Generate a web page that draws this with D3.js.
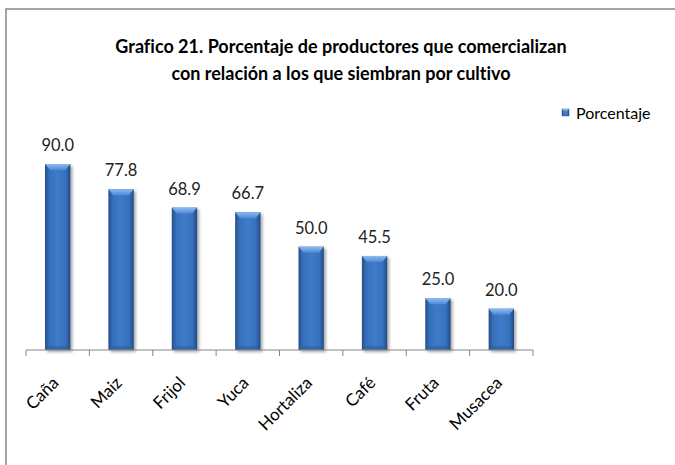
<!doctype html>
<meta charset="utf-8">
<title>Grafico 21</title>
<style>
body { margin: 0; background: #fff; }
svg { font-family: Lato, "Open Sans", sans-serif; font-variant-ligatures: none; font-feature-settings: "liga" 0, "clig" 0; }
</style>
<script src="https://cdn.jsdelivr.net/npm/d3@7"></script>
<body>
<script>
// data
var cultivos = ["Caña", "Maiz", "Frijol", "Yuca", "Hortaliza", "Café", "Fruta", "Musacea"];
var porcentaje = [90.0, 77.8, 68.9, 66.7, 50.0, 45.5, 25.0, 20.0];
var serie = "Porcentaje";
var titulo = ["Grafico 21. Porcentaje de productores que comercializan",
              "con relación a los que siembran por cultivo"];

var W = 675, H = 465;
var svg = d3.select("body").append("svg").attr("width", W).attr("height", H);

var defs = svg.append("defs");
var g1 = defs.append("linearGradient").attr("id", "barBody").attr("x1", 0).attr("x2", 1).attr("y1", 0).attr("y2", 0);
g1.append("stop").attr("offset", "0%").attr("stop-color", "#264f8a");
g1.append("stop").attr("offset", "18%").attr("stop-color", "#3870bb");
g1.append("stop").attr("offset", "50%").attr("stop-color", "#3e7bc9");
g1.append("stop").attr("offset", "82%").attr("stop-color", "#3870bb");
g1.append("stop").attr("offset", "100%").attr("stop-color", "#224a83");
var g2 = defs.append("linearGradient").attr("id", "barTop").attr("x1", 0).attr("x2", 0).attr("y1", 0).attr("y2", 1);
g2.append("stop").attr("offset", "0%").attr("stop-color", "#8ebcf0");
g2.append("stop").attr("offset", "100%").attr("stop-color", "#4c8ad6");
var sh = defs.append("filter").attr("id", "shadow").attr("x", "-20%").attr("y", "-5%").attr("width", "160%").attr("height", "120%");
sh.append("feGaussianBlur").attr("in", "SourceAlpha").attr("stdDeviation", 1.5);
sh.append("feOffset").attr("dx", 1.5).attr("dy", 1.5).attr("result", "off");
sh.append("feComponentTransfer").append("feFuncA").attr("type", "linear").attr("slope", 0.35);
var mg = sh.append("feMerge");
mg.append("feMergeNode");
mg.append("feMergeNode").attr("in", "SourceGraphic");

// outer chart border (runs off the right and bottom)
svg.append("rect").attr("x", 6).attr("y", 9).attr("width", 720).attr("height", 520)
  .attr("fill", "none").attr("stroke", "#868686").attr("stroke-width", 1.5);

svg.append("g").selectAll("text").data(titulo).join("text")
  .attr("x", 341).attr("y", function(d, i) { return 53 + i * 27; })
  .attr("text-anchor", "middle").attr("font-size", 18).attr("font-weight", "bold")
  .attr("fill", "#000").text(function(d) { return d; });

var x = d3.scaleBand().domain(cultivos).range([26, 533]).paddingInner(0.6).paddingOuter(0.3);
var y = d3.scaleLinear().domain([0, 100]).range([350, 143.3]);

// bars
var bars = svg.append("g").selectAll("g").data(porcentaje).join("g")
  .attr("filter", "url(#shadow)");
bars.append("rect")
  .attr("x", function(d, i) { return x(cultivos[i]); })
  .attr("y", function(d) { return y(d); })
  .attr("width", x.bandwidth())
  .attr("height", function(d) { return y(0) - y(d); })
  .attr("fill", "url(#barBody)");
bars.append("path")
  .attr("fill", "url(#barTop)")
  .attr("d", function(d, i) {
    var x0 = x(cultivos[i]), x1 = x0 + x.bandwidth(), t = y(d);
    return "M" + x0 + "," + t + "L" + x1 + "," + t + "L" + (x1 - 5) + "," + (t + 6) + "L" + (x0 + 5) + "," + (t + 6) + "Z";
  });
bars.append("rect")
  .attr("x", function(d, i) { return x(cultivos[i]) + 3; })
  .attr("y", y(0) - 4)
  .attr("width", x.bandwidth() - 6).attr("height", 4)
  .attr("fill", "#2d5f9f").attr("opacity", 0.6);

// value labels
svg.append("g").selectAll("text").data(porcentaje).join("text")
  .attr("x", function(d, i) { return x(cultivos[i]) + x.bandwidth() / 2; })
  .attr("y", function(d) { return y(d) - 13; })
  .attr("text-anchor", "middle").attr("font-size", 16.5).attr("fill", "#222")
  .text(function(d) { return d3.format(".1f")(d); });

// category axis
var ax = svg.append("g").attr("transform", "translate(0,350)");
ax.append("line").attr("x1", 26).attr("x2", 533).attr("stroke", "#868686");
var bounds = cultivos.map(function(c) { return x(c) - x.step() * x.paddingOuter(); });
bounds.push(533);
ax.selectAll("line.tk").data(bounds).join("line").attr("class", "tk")
  .attr("x1", function(d) { return d; }).attr("x2", function(d) { return d; })
  .attr("y1", 0).attr("y2", 6).attr("stroke", "#868686");
ax.selectAll("text").data(cultivos).join("text")
  .attr("transform", function(d) { return "translate(" + (x(d) + x.bandwidth() / 2 + 2) + ",34) rotate(-45)"; })
  .attr("text-anchor", "end").attr("font-size", 17).attr("fill", "#000")
  .text(function(d) { return d; });

// legend
var lg = svg.append("g").attr("transform", "translate(562,109)");
lg.append("rect").attr("width", 7).attr("height", 7).attr("fill", "url(#barBody)").attr("stroke", "#2a5797").attr("stroke-width", 0.5);
lg.append("path").attr("d", "M0,0L7,0L5,2.5L2,2.5Z").attr("fill", "url(#barTop)");
lg.append("text").attr("x", 14).attr("y", 9.5).attr("font-size", 16).attr("fill", "#000").text(serie);
</script>
</body>
